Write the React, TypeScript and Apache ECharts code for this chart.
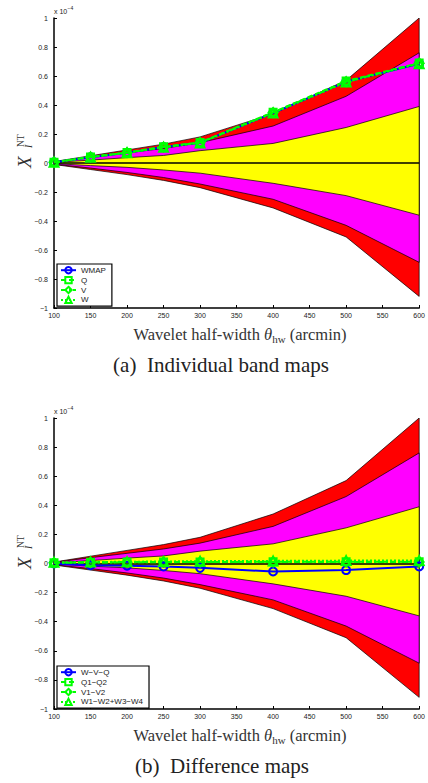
import React, { useEffect, useRef } from "react";
import * as echarts from "echarts";

// Wavelet half-width (arcmin)
const xs = [100, 150, 200, 250, 300, 400, 500, 600];
const xTickStep = 50;

// Simulation confidence bands (units of 1e-4)
const redUpper = [0.01, 0.05, 0.09, 0.13, 0.18, 0.34, 0.57, 1.0];
const magentaUpper = [0.008, 0.04, 0.07, 0.1, 0.14, 0.255, 0.46, 0.76];
const yellowUpper = [0.004, 0.02, 0.037, 0.052, 0.085, 0.135, 0.245, 0.39];
const yellowLower = [-0.004, -0.018, -0.03, -0.048, -0.07, -0.14, -0.225, -0.36];
const magentaLower = [-0.008, -0.035, -0.065, -0.1, -0.145, -0.25, -0.43, -0.685];
const redLower = [-0.01, -0.045, -0.08, -0.12, -0.17, -0.31, -0.51, -0.92];

// (a) Individual band maps
const wmapValues = [0.005, 0.04, 0.07, 0.11, 0.14, 0.345, 0.56, 0.685];
const qValues = [0.005, 0.042, 0.072, 0.112, 0.142, 0.35, 0.565, 0.69];
const vValues = [0.005, 0.041, 0.071, 0.11, 0.14, 0.348, 0.56, 0.688];
const wValues = [0.005, 0.04, 0.07, 0.108, 0.138, 0.345, 0.558, 0.685];

// (b) Difference maps
const wvqValues = [0.0, -0.012, -0.015, -0.02, -0.03, -0.055, -0.045, -0.02];
const q12Values = [0.005, 0.008, 0.01, 0.01, 0.01, 0.012, 0.012, 0.012];
const v12Values = [0.005, 0.007, 0.008, 0.009, 0.01, 0.01, 0.01, 0.01];
const w1234Values = [0.008, 0.01, 0.012, 0.014, 0.016, 0.018, 0.02, 0.02];

const topNames = ["WMAP", "Q", "V", "W"];
const bottomNames = ["W−V−Q", "Q1−Q2", "V1−V2", "W1−W2+W3−W4"];

const SERIF = '"Liberation Serif", "DejaVu Serif", serif';
const SANS = '"Liberation Sans", Arial, sans-serif';
const BLUE = "#0000ff";
const GREEN = "#00ff00";

function bandSeries(lower: number[], upper: number[], color: string, idx: number, zeroLine: boolean) {
  const s: any = {
    type: "custom",
    xAxisIndex: idx,
    yAxisIndex: idx,
    silent: true,
    clip: true,
    data: xs.map((x, i) => [x, lower[i], upper[i]]),
    encode: { x: 0, y: [1, 2] },
    renderItem: (params: any, api: any) => {
      if (params.dataIndex !== 0) return null;
      const pts: number[][] = [];
      for (let i = 0; i < xs.length; i++) pts.push(api.coord([xs[i], upper[i]]));
      for (let i = xs.length - 1; i >= 0; i--) pts.push(api.coord([xs[i], lower[i]]));
      return {
        type: "polygon",
        shape: { points: pts },
        style: { fill: color, stroke: "#000", lineWidth: 0.7 },
      };
    },
  };
  if (zeroLine) {
    s.markLine = {
      silent: true,
      symbol: ["none", "none"],
      label: { show: false },
      lineStyle: { color: "#000", width: 1.5, type: "solid" },
      data: [{ yAxis: 0 }],
    };
  }
  return s;
}

function lineSeries(
  name: string,
  values: number[],
  color: string,
  dash: any,
  symbol: string,
  size: number,
  idx: number
) {
  return {
    type: "line",
    name,
    xAxisIndex: idx,
    yAxisIndex: idx,
    data: xs.map((x, i) => [x, values[i]]),
    symbol,
    symbolSize: size,
    showAllSymbol: true,
    lineStyle: { color, width: 2, type: dash },
    itemStyle: { color: "rgba(255,255,255,0)", borderColor: color, borderWidth: 2 },
    z: 5,
  };
}

function yFormatter(v: number) {
  const r = Math.round(v * 10) / 10;
  if (r === 0) return "0";
  const a = Math.abs(r);
  const s = a === 1 ? "1" : a.toFixed(1);
  return (r < 0 ? "−" : "") + s;
}

function xAxis(idx: number) {
  return {
    type: "value",
    gridIndex: idx,
    min: 100,
    max: 600,
    interval: xTickStep,
    axisLine: { onZero: false, lineStyle: { color: "#000", width: 1.5 } },
    axisTick: { inside: true, length: 3, lineStyle: { color: "#000", width: 1 } },
    axisLabel: { fontSize: 7, color: "#222", fontFamily: SANS, margin: 4 },
    splitLine: { show: false },
  };
}

function yAxis(idx: number) {
  return {
    type: "value",
    gridIndex: idx,
    min: -1,
    max: 1,
    interval: 0.2,
    axisLine: { onZero: false, lineStyle: { color: "#000", width: 1.5 } },
    axisTick: { inside: true, length: 3, lineStyle: { color: "#000", width: 1 } },
    axisLabel: { fontSize: 7, color: "#222", fontFamily: SANS, margin: 6, formatter: yFormatter },
    splitLine: { show: false },
  };
}

function legend(names: string[], top: number) {
  return {
    data: names,
    left: 57,
    top,
    orient: "vertical",
    padding: [2, 6, 2, 3],
    itemGap: 1.5,
    itemWidth: 15,
    itemHeight: 8,
    backgroundColor: "#fff",
    borderColor: "#000",
    borderWidth: 1.2,
    borderRadius: 0,
    selectedMode: false,
    textStyle: { fontSize: 8, fontFamily: SANS, color: "#222", lineHeight: 8 },
  };
}

function yLabel(cy: number) {
  return {
    type: "group",
    x: 24,
    y: cy,
    rotation: Math.PI / 2,
    children: [
      {
        type: "text",
        x: -17,
        y: 0,
        style: { text: "X", font: `italic 19px ${SERIF}`, fill: "#333", textAlign: "left", verticalAlign: "middle" },
      },
      {
        type: "text",
        x: 3,
        y: 4.3,
        style: { text: "I", font: `italic 10px ${SERIF}`, fill: "#333", textAlign: "left", verticalAlign: "middle" },
      },
      {
        type: "text",
        x: 4,
        y: -3,
        style: { text: "NT", font: `9.5px ${SERIF}`, fill: "#333", textAlign: "left", verticalAlign: "middle" },
      },
    ],
  };
}

function scaleLabel(y: number) {
  return [
    {
      type: "text",
      left: 54,
      top: y - 4,
      style: { text: "x 10", font: `7px ${SANS}`, fill: "#222" },
    },
    {
      type: "text",
      left: 67.5,
      top: y - 7,
      style: { text: "−4", font: `5px ${SANS}`, fill: "#222" },
    },
  ];
}

function xLabel(cy: number) {
  return {
    type: "text",
    x: 240,
    y: cy,
    style: {
      text: "Wavelet half-width {it|θ}{sub|hw} (arcmin)",
      font: `16.5px ${SERIF}`,
      fill: "#333",
      textAlign: "center",
      verticalAlign: "middle",
      rich: {
        it: { fontStyle: "italic", fontSize: 16.5, fontFamily: SERIF, fill: "#333", lineHeight: 20 },
        sub: { fontSize: 11, fontFamily: SERIF, fill: "#333", lineHeight: 11, verticalAlign: "bottom" },
      },
    },
  };
}

function caption(text: string, cx: number, cy: number) {
  return {
    type: "text",
    x: cx,
    y: cy,
    style: { text, font: `21px ${SERIF}`, fill: "#222", textAlign: "center", verticalAlign: "middle" },
  };
}

export default function App() {
  const ref = useRef<HTMLDivElement>(null);
  useEffect(() => {
    if (!ref.current) return;
    const chart = echarts.init(ref.current, null, { renderer: "svg" });
    const option: any = {
      animation: false,
      backgroundColor: "#fff",
      grid: [
        { left: 54, top: 18, width: 368, height: 290 },
        { left: 54, top: 418, width: 368, height: 291 },
      ],
      xAxis: [xAxis(0), xAxis(1)],
      yAxis: [yAxis(0), yAxis(1)],
      legend: [legend(topNames, 264), legend(bottomNames, 666)],
      series: [
        bandSeries(redLower, redUpper, "#ff0000", 0, false),
        bandSeries(magentaLower, magentaUpper, "#ff00ff", 0, false),
        bandSeries(yellowLower, yellowUpper, "#ffff00", 0, true),
        lineSeries(topNames[0], wmapValues, BLUE, "solid", "circle", 8, 0),
        lineSeries(topNames[1], qValues, GREEN, [5, 3], "rect", 7, 0),
        lineSeries(topNames[2], vValues, GREEN, [6, 2, 2, 2], "diamond", 9, 0),
        lineSeries(topNames[3], wValues, GREEN, [2, 2], "triangle", 9, 0),
        bandSeries(redLower, redUpper, "#ff0000", 1, false),
        bandSeries(magentaLower, magentaUpper, "#ff00ff", 1, false),
        bandSeries(yellowLower, yellowUpper, "#ffff00", 1, true),
        lineSeries(bottomNames[0], wvqValues, BLUE, "solid", "circle", 8, 1),
        lineSeries(bottomNames[1], q12Values, GREEN, [5, 3], "rect", 7, 1),
        lineSeries(bottomNames[2], v12Values, GREEN, [6, 2, 2, 2], "diamond", 9, 1),
        lineSeries(bottomNames[3], w1234Values, GREEN, [2, 2], "triangle", 9, 1),
      ],
      graphic: [
        ...scaleLabel(12),
        ...scaleLabel(412),
        yLabel(151),
        yLabel(552),
        xLabel(334),
        xLabel(735),
        caption("(a)  Individual band maps", 221, 365),
        caption("(b)  Difference maps", 222, 766),
      ],
    };
    chart.setOption(option);
    return () => chart.dispose();
  }, []);
  return (
    <div
      ref={ref}
      style={{ position: "absolute", left: 0, top: 0, width: 428, height: 783 }}
    />
  );
}
